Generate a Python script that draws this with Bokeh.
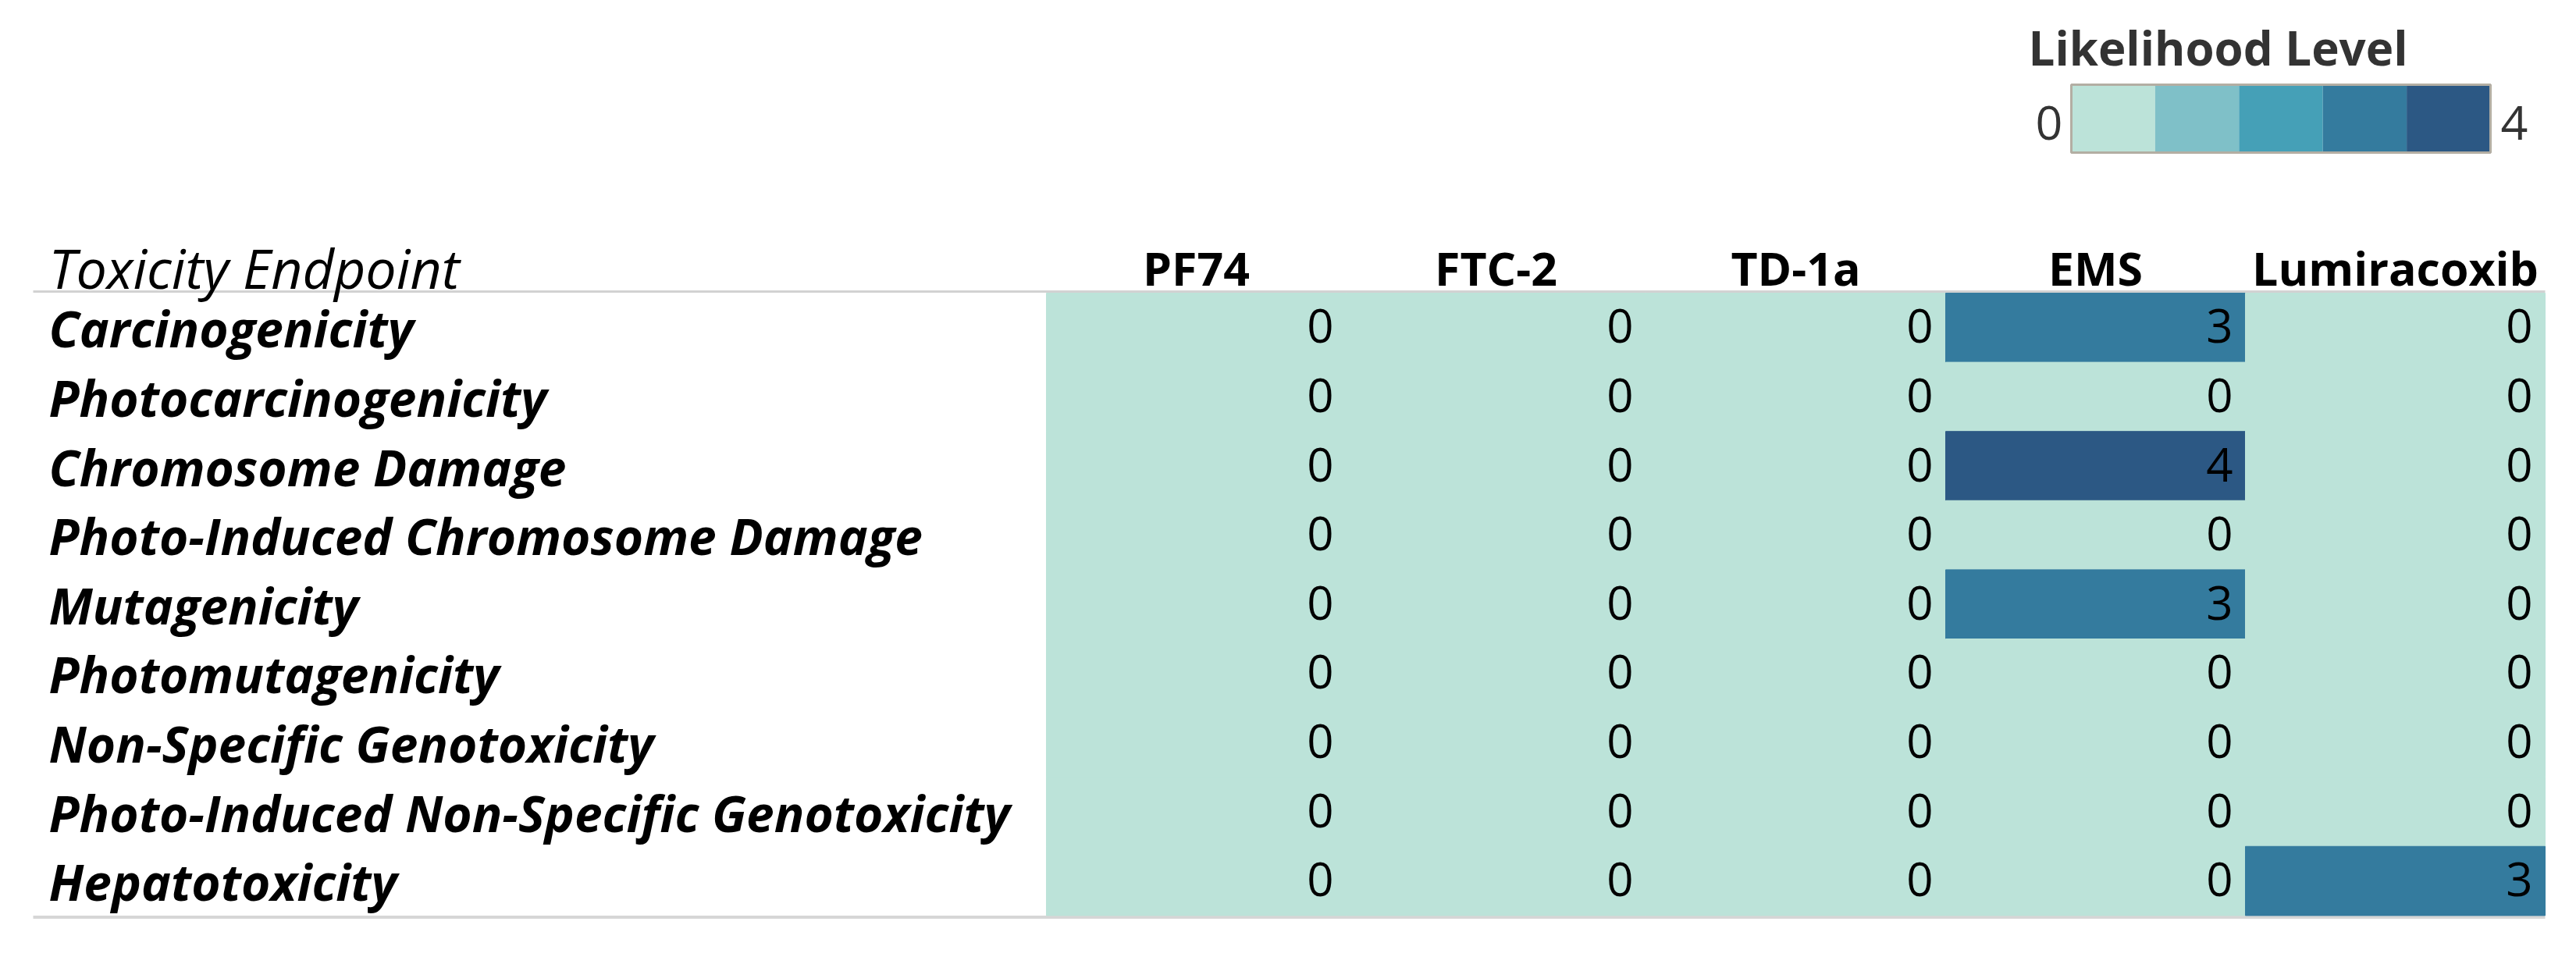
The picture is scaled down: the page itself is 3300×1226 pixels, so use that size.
from bokeh.plotting import figure
from bokeh.models import Range1d, ColumnDataSource, LinearColorMapper
from bokeh.transform import transform
from bokeh.embed import file_html
from bokeh.resources import INLINE
from bokeh.core.properties import value

# ---------------- data ----------------
COMPOUNDS = ["PF74", "FTC-2", "TD-1a", "EMS", "Lumiracoxib"]
ENDPOINTS = [
    "Carcinogenicity",
    "Photocarcinogenicity",
    "Chromosome Damage",
    "Photo-Induced Chromosome Damage",
    "Mutagenicity",
    "Photomutagenicity",
    "Non-Specific Genotoxicity",
    "Photo-Induced Non-Specific Genotoxicity",
    "Hepatotoxicity",
]
PF74_VALUES = [0, 0, 0, 0, 0, 0, 0, 0, 0]
FTC2_VALUES = [0, 0, 0, 0, 0, 0, 0, 0, 0]
TD1A_VALUES = [0, 0, 0, 0, 0, 0, 0, 0, 0]
EMS_VALUES = [3, 0, 4, 0, 3, 0, 0, 0, 0]
LUMIRACOXIB_VALUES = [0, 0, 0, 0, 0, 0, 0, 0, 3]
SERIES = [PF74_VALUES, FTC2_VALUES, TD1A_VALUES, EMS_VALUES, LUMIRACOXIB_VALUES]

LEVELS = [0, 1, 2, 3, 4]
PALETTE = ["#bce3d9", "#7fc0c8", "#45a0b7", "#347b9e", "#2c5884"]
LEGEND_TITLE = "Likelihood Level"
ROW_HEADER = "Toxicity Endpoint"

# ---------------- layout (pixels) ----------------
W, H = 3300, 1226
X0, CW = 1340, 384      # heatmap left edge & column width
Y0, RH = 375, 88.6      # heatmap top edge & row height
FONT = "Open Sans"

def ux(px):
    return (px - X0) / CW

def uy(py):
    return (py - Y0) / RH

p = figure(
    width=W, height=H,
    x_range=Range1d(ux(0), ux(W)),
    y_range=Range1d(uy(H), uy(0)),
    output_backend="svg", toolbar_location=None,
    min_border=0, x_axis_location=None, y_axis_location=None,
)
p.grid.visible = False
p.outline_line_color = None
p.background_fill_color = "white"
p.border_fill_color = "white"

mapper = LinearColorMapper(palette=PALETTE, low=LEVELS[0] - 0.5, high=LEVELS[-1] + 0.5)

# cells
xs, ys, vals, labels = [], [], [], []
for ci, comp in enumerate(COMPOUNDS):
    for ri, ep in enumerate(ENDPOINTS):
        xs.append(ci)
        ys.append(ri)
        vals.append(SERIES[ci][ri])
        labels.append(str(SERIES[ci][ri]))
src = ColumnDataSource(dict(
    left=xs, right=[x + 1 for x in xs], top=ys, bottom=[y + 1 for y in ys],
    xr=[x + 1 for x in xs], yc=[y + 0.5 for y in ys], v=vals, lab=labels,
))

# separator lines
p.segment(x0=ux(42), x1=len(COMPOUNDS), y0=uy(373), y1=uy(373),
          line_color="#d2d2d2", line_width=3)
p.segment(x0=ux(42), x1=len(COMPOUNDS), y0=uy(1174.5), y1=uy(1174.5),
          line_color="#d6d6d6", line_width=4)

p.quad(left="left", right="right", top="top", bottom="bottom", source=src,
       fill_color=transform("v", mapper), line_color=transform("v", mapper), line_width=1)

p.text(x="xr", y="yc", text="lab", source=src, x_offset=-16, y_offset=-2,
       text_align="right", text_baseline="middle",
       text_font=value(FONT), text_font_size="60px", text_color="#000000")

# column headers
p.text(x=[i + 0.5 for i in range(len(COMPOUNDS))], y=[0] * len(COMPOUNDS), text=COMPOUNDS,
       y_offset=-33, text_align="center", text_baseline="middle",
       text_font=value(FONT), text_font_style="bold", text_font_size="59px",
       text_color="#000000")

# row header
p.text(x=[ux(62)], y=[0], text=[ROW_HEADER], y_offset=-33,
       text_align="left", text_baseline="middle",
       text_font=value(FONT), text_font_style="italic", text_font_size="70px",
       text_color="#000000")

# row labels
p.text(x=[ux(62)] * len(ENDPOINTS), y=[i + 0.5 for i in range(len(ENDPOINTS))], text=ENDPOINTS,
       y_offset=1, text_align="left", text_baseline="middle",
       text_font=value(FONT), text_font_style="bold italic", text_font_size="64px",
       text_color="#000000")

# legend
bl, br = ux(2653), ux(3190)
bt, bb = uy(108), uy(195)
bc = uy(151.5)
seg = (br - bl) / len(LEVELS)
p.quad(left=[bl + k * seg for k in LEVELS], right=[bl + (k + 1) * seg for k in LEVELS],
       top=[bt] * len(LEVELS), bottom=[bb] * len(LEVELS),
       fill_color=[PALETTE[k] for k in LEVELS], line_color=None)
p.quad(left=[bl], right=[br], top=[bt], bottom=[bb], fill_color=None,
       line_color="#b3aea3", line_width=3)
p.text(x=[ux(2598)], y=[uy(60.5)], text=[LEGEND_TITLE], text_align="left",
       text_baseline="middle", text_font=value(FONT), text_font_style="bold",
       text_font_size="60px", text_color="#333333")
p.text(x=[bl], y=[bc], text=[str(LEVELS[0])], x_offset=-11, y_offset=5,
       text_align="right", text_baseline="middle", text_font=value(FONT),
       text_font_size="61px", text_color="#333333")
p.text(x=[br], y=[bc], text=[str(LEVELS[-1])], x_offset=13, y_offset=5,
       text_align="left", text_baseline="middle", text_font=value(FONT),
       text_font_size="61px", text_color="#333333")

open("out.html", "w").write(file_html(p, INLINE))
